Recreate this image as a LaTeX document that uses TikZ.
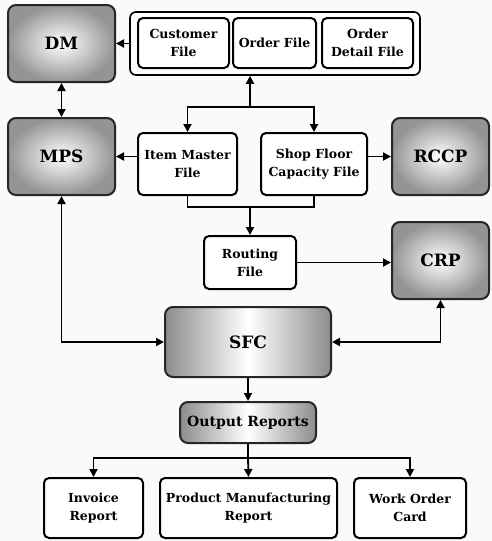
\documentclass[tikz,border=0pt]{standalone}
\usepackage{fontspec}
\setmainfont{DejaVu Serif}
\usetikzlibrary{arrows.meta,calc}
\begin{document}
\begin{tikzpicture}[x=1pt,y=-1pt,
  every node/.style={font=\fontsize{12.5}{18}\selectfont\bfseries, align=center, inner sep=0pt},
  filebox/.style={draw=black, line width=2pt, rounded corners=5pt, fill=white},
  graybox/.style={draw=black!85, line width=2pt, rounded corners=8pt, inner color=white, outer color=black!42, font=\fontsize{17}{19}\selectfont\bfseries},
  hgray/.style={draw=black!85, line width=2pt, rounded corners=8pt, left color=black!45, right color=black!45, middle color=white},
  conn/.style={line width=1.8pt},
  arr/.style={conn, -{Triangle[length=8pt,width=8pt]}},
  arr2/.style={conn, {Triangle[length=8pt,width=8pt]}-{Triangle[length=8pt,width=8pt]}}
]
\useasboundingbox (0,0) rectangle (492,541);
\fill[black!2] (0,0) rectangle (492,541);

\node[graybox, minimum width=107pt, minimum height=77pt] (dm) at (61.5,43.5) {DM};
\node[draw=black, line width=1.6pt, rounded corners=6pt, fill=white, minimum width=290pt, minimum height=63pt] (cont) at (275,43.5) {};
\node[filebox, minimum width=91pt, minimum height=50pt] (cust) at (183.5,43) {Customer\\File};
\node[filebox, minimum width=83pt, minimum height=50pt] (order) at (274.5,43) {Order File};
\node[filebox, minimum width=91pt, minimum height=50pt] (detail) at (367.5,43) {Order\\Detail File};

\node[graybox, minimum width=107pt, minimum height=77pt] (mps) at (61.5,156.5) {MPS};
\node[filebox, minimum width=99pt, minimum height=62pt] (item) at (187.5,164) {Item Master\\File};
\node[filebox, minimum width=106pt, minimum height=62pt] (shop) at (314,164) {Shop Floor\\Capacity File};
\node[graybox, minimum width=97pt, minimum height=77pt] (rccp) at (440.5,156.5) {RCCP};

\node[filebox, minimum width=92pt, minimum height=53pt] (routing) at (250,262.5) {Routing\\File};
\node[graybox, minimum width=97pt, minimum height=77pt] (crp) at (440.5,260.5) {CRP};

\node[hgray, minimum width=166pt, minimum height=70pt, font=\fontsize{17}{19}\selectfont\bfseries] (sfc) at (248,342) {SFC};
\node[hgray, minimum width=136pt, minimum height=41pt, font=\fontsize{14}{16}\selectfont\bfseries] (out) at (248,422.5) {Output Reports};

\node[filebox, minimum width=99pt, minimum height=60pt] (inv) at (93.5,508) {Invoice\\Report};
\node[filebox, minimum width=177pt, minimum height=60pt] (pmr) at (248.5,508) {Product Manufacturing\\Report};
\node[filebox, minimum width=112pt, minimum height=60pt] (woc) at (410,508) {Work Order\\Card};

% connectors
\draw[arr] (cont.west) -- (dm.east);
\draw[arr2] (dm.south) -- (mps.north);

\coordinate (t1) at (250,107);
\draw[arr] (t1) -- (t1 |- cont.south);
\draw[arr] (t1) -| (item.north);
\draw[arr] (t1) -| (shop.north);

\draw[arr] (item.west |- mps.east) -- (mps.east);
\draw[arr] (shop.east |- rccp.west) -- (rccp.west);

\coordinate (m1) at (250,207);
\draw[conn] (item.south) |- (m1);
\draw[conn] (shop.south) |- (m1);
\draw[arr] (m1) -- (routing.north);

\draw[arr] (routing.east) -- (routing.east -| crp.west);
\draw[arr2] (mps.south) |- (sfc.west);
\draw[arr2] (sfc.east) -| (crp.south);

\draw[arr] (sfc.south) -- (out.north);
\coordinate (s1) at (248,458);
\draw[conn] (out.south) -- (s1);
\draw[arr] (s1) -| (inv.north);
\draw[arr] (s1) -- (pmr.north);
\draw[arr] (s1) -| (woc.north);
\end{tikzpicture}
\end{document}
